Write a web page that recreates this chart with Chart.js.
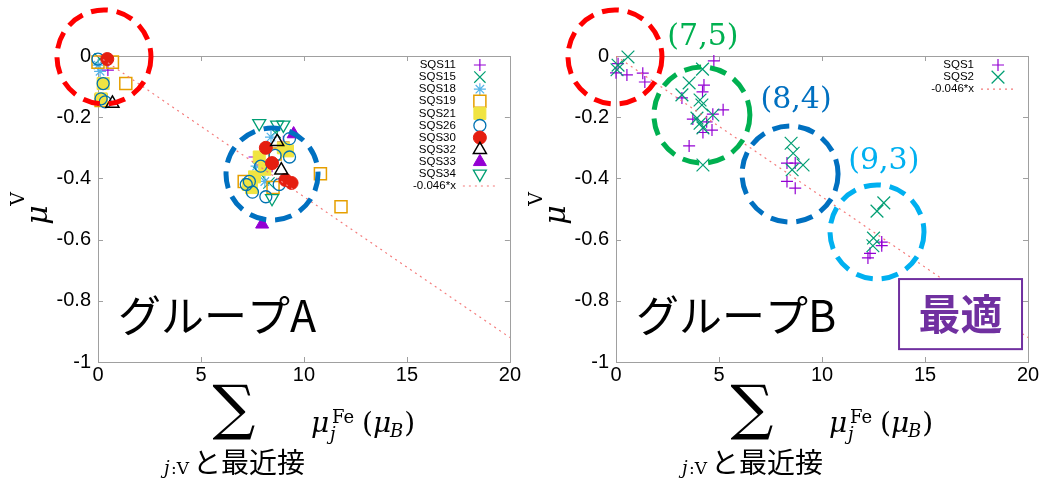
<!DOCTYPE html>
<html>
<head>
<meta charset="utf-8">
<script src="https://cdn.jsdelivr.net/npm/chart.js@4.4.1/dist/chart.umd.min.js"></script>
<style>
body { margin: 0; background: #fff; width: 1044px; height: 479px; overflow: hidden; position: relative; }
canvas { position: absolute; top: 0; }
#chartA { left: 0; }
#chartB { left: 522px; }
</style>
</head>
<body>
<canvas id="chartA" width="522" height="479"></canvas>
<canvas id="chartB" width="522" height="479"></canvas>
<script>
// ---- data ----
var xTicks = [0, 5, 10, 15, 20];
var yTicks = [0, -0.2, -0.4, -0.6, -0.8, -1];
var fitLabel = '-0.046*x';
var fitX = [0, 20];
var fitY = [0, -0.92];

// group A
var namesA = ['SQS11', 'SQS15', 'SQS18', 'SQS19', 'SQS21', 'SQS26', 'SQS30', 'SQS32', 'SQS33', 'SQS34'];
var sqs11 = [[0.48, -0.046], [7.6, -0.33], [8.45, -0.36], [9.0, -0.28]];
var sqs15 = [[0.1, -0.01], [8.3, -0.415], [8.6, -0.25], [7.8, -0.38]];
var sqs18 = [[0.0, -0.03], [0.1, -0.05], [8.4, -0.265], [7.7, -0.36], [8.1, -0.41]];
var sqs19 = [[0.0, -0.02], [0.7, -0.02], [1.35, -0.09], [0.15, -0.145], [7.1, -0.41], [8.6, -0.32], [10.8, -0.385], [11.8, -0.493], [8.5, -0.43]];
var sqs21 = [[0.25, -0.09], [0.15, -0.14], [9.0, -0.30], [7.83, -0.33], [7.6, -0.395], [7.45, -0.43], [8.1, -0.37], [7.3, -0.42], [9.2, -0.31]];
var sqs26 = [[0.0, -0.01], [0.25, -0.09], [0.15, -0.14], [0.35, -0.15], [9.3, -0.27], [8.6, -0.325], [9.3, -0.33], [7.35, -0.41], [7.5, -0.445], [8.15, -0.46], [8.8, -0.42], [7.9, -0.36], [7.2, -0.42]];
var sqs30 = [[0.45, -0.01], [8.15, -0.30], [8.45, -0.35], [9.1, -0.405], [9.4, -0.415]];
var sqs32 = [[0.7, -0.155], [8.7, -0.28], [8.9, -0.373]];
var sqs33 = [[9.5, -0.255], [7.97, -0.55]];
var sqs34 = [[7.83, -0.22], [8.7, -0.225], [9.0, -0.225], [8.45, -0.465]];

// group B
var namesB = ['SQS1', 'SQS2'];
var sqs1 = [[0.1, -0.025], [0.0, -0.055], [0.53, -0.062], [1.3, -0.056], [1.4, -0.085], [4.75, -0.016], [4.27, -0.095], [4.2, -0.117], [3.2, -0.137], [5.2, -0.176], [4.7, -0.19], [3.73, -0.206], [4.4, -0.215], [4.66, -0.242], [4.22, -0.25], [3.55, -0.294], [8.3, -0.35], [8.7, -0.35], [8.3, -0.41], [8.7, -0.432], [12.9, -0.608], [12.9, -0.62], [12.33, -0.645], [12.23, -0.66]];
var sqs2 = [[0.58, -0.003], [0.1, -0.03], [0.05, -0.045], [4.2, -0.043], [3.55, -0.088], [3.2, -0.127], [4.08, -0.144], [4.17, -0.16], [4.7, -0.193], [3.93, -0.203], [4.08, -0.22], [4.22, -0.235], [4.22, -0.356], [8.5, -0.285], [8.6, -0.318], [9.08, -0.356], [8.55, -0.372], [13.0, -0.48], [12.67, -0.507], [12.5, -0.595], [12.47, -0.62]];

// marker styles (gnuplot-like)
var marksA = [
  { style: 'cross', r: 6, w: 1.2, stroke: '#9400d3', fill: 'rgba(0,0,0,0)' },
  { style: 'crossRot', r: 8, w: 1.2, stroke: '#009e73', fill: 'rgba(0,0,0,0)' },
  { style: 'star', r: 6, w: 1.2, stroke: '#56b4e9', fill: 'rgba(0,0,0,0)' },
  { style: 'rect', r: 8.5, w: 1.5, stroke: '#e69f00', fill: 'rgba(0,0,0,0)' },
  { style: 'rect', r: 8.5, w: 1, stroke: '#f0e442', fill: '#f0e442' },
  { style: 'circle', r: 6, w: 1.3, stroke: '#0072b2', fill: 'rgba(0,0,0,0)' },
  { style: 'circle', r: 6.5, w: 1, stroke: '#e51e10', fill: '#e51e10' },
  { style: 'triangle', r: 7.5, w: 1.5, stroke: '#000000', fill: 'rgba(0,0,0,0)' },
  { style: 'triangle', r: 7.5, w: 1, stroke: '#9400d3', fill: '#9400d3' },
  { style: 'triangle', r: 7.5, w: 1.3, stroke: '#009e73', fill: 'rgba(0,0,0,0)', rot: 180 }
];
var marksB = [
  { style: 'cross', r: 6, w: 1.2, stroke: '#9400d3', fill: 'rgba(0,0,0,0)' },
  { style: 'crossRot', r: 9, w: 1.2, stroke: '#009e73', fill: 'rgba(0,0,0,0)' }
];

function drawMark(ctx, m, x, y) {
  var r = m.r;
  ctx.save();
  ctx.lineWidth = m.w;
  ctx.strokeStyle = m.stroke;
  ctx.fillStyle = m.fill;
  ctx.beginPath();
  if (m.style == 'cross' || m.style == 'star') {
    ctx.moveTo(x - r, y); ctx.lineTo(x + r, y);
    ctx.moveTo(x, y - r); ctx.lineTo(x, y + r);
  }
  if (m.style == 'crossRot' || m.style == 'star') {
    var d = r * Math.SQRT1_2;
    ctx.moveTo(x - d, y - d); ctx.lineTo(x + d, y + d);
    ctx.moveTo(x - d, y + d); ctx.lineTo(x + d, y - d);
  }
  if (m.style == 'rect') {
    var s = r * Math.SQRT1_2;
    ctx.rect(x - s, y - s, 2 * s, 2 * s);
    ctx.fill();
  }
  if (m.style == 'circle') {
    ctx.arc(x, y, r, 0, Math.PI * 2);
    ctx.fill();
  }
  if (m.style == 'triangle') {
    var a = (m.rot || 0) * Math.PI / 180;
    for (var k = 0; k < 3; k++) {
      var t = a + k * 2 * Math.PI / 3;
      if (k == 0) ctx.moveTo(x + Math.sin(t) * r, y - Math.cos(t) * r);
      else ctx.lineTo(x + Math.sin(t) * r, y - Math.cos(t) * r);
    }
    ctx.closePath();
    ctx.fill();
  }
  ctx.stroke();
  ctx.restore();
}

// axis titles, drawn by hand because of the math layout
function xTitle(ctx, L) {
  ctx.save();
  ctx.fillStyle = '#000';
  ctx.textAlign = 'center';
  ctx.textBaseline = 'middle';
  ctx.font = '60px "DejaVu Serif"';
  ctx.fillText('\u2211', L + 136, 412);
  ctx.textAlign = 'left';
  ctx.textBaseline = 'alphabetic';
  ctx.font = 'italic 28px "DejaVu Serif"';
  ctx.fillText('\u03bc', L + 213, 432);
  ctx.font = '18px "DejaVu Serif"';
  ctx.fillText('Fe', L + 234, 423);
  ctx.font = 'italic 18px "DejaVu Serif"';
  ctx.fillText('j', L + 232, 440);
  var px = L + 264;
  ctx.font = '28px "DejaVu Serif"';
  ctx.fillText('(', px, 432); px += ctx.measureText('(').width;
  ctx.font = 'italic 28px "DejaVu Serif"';
  ctx.fillText('\u03bc', px, 432); px += ctx.measureText('\u03bc').width;
  ctx.font = 'italic 18px "DejaVu Serif"';
  ctx.fillText('B', px - 1, 437); px += ctx.measureText('B').width;
  ctx.font = '28px "DejaVu Serif"';
  ctx.fillText(')', px, 432);
  // sum index
  ctx.font = 'italic 18px "DejaVu Serif"';
  ctx.fillText('j', L + 66, 474);
  ctx.font = '17px "DejaVu Serif"';
  ctx.fillText(':V', L + 73, 474);
  ctx.font = '28px "Noto Sans CJK JP"';
  ctx.textBaseline = 'top';
  ctx.fillText('と最近接', L + 95, 448);
  ctx.restore();
}

function yTitle(ctx, L) {
  ctx.save();
  ctx.fillStyle = '#000';
  ctx.translate(L - 59, 215);
  ctx.rotate(-Math.PI / 2);
  ctx.textAlign = 'center';
  ctx.textBaseline = 'middle';
  ctx.font = 'italic 30px "DejaVu Serif"';
  ctx.fillText('\u03bc', 0, 0);
  ctx.font = '19px "DejaVu Serif"';
  ctx.fillText('V', 16, -20);
  ctx.restore();
}

function makeChart(id, names, sets, marks, yWidth, padRight, deco) {
  var datasets = names.map(function (n, i) {
    var m = marks[i];
    return {
      label: n,
      data: sets[i].map(function (p) { return { x: p[0], y: p[1] }; }),
      pointStyle: m.style,
      pointRadius: m.r,
      pointHoverRadius: m.r,
      pointBorderWidth: m.w,
      pointBorderColor: m.stroke,
      pointBackgroundColor: m.fill,
      pointRotation: m.rot || 0,
      showLine: false,
      clip: false,
      order: names.length - i + 1
    };
  });
  datasets.push({
    label: fitLabel,
    type: 'line',
    data: fitX.map(function (x, i) { return { x: x, y: fitY[i] }; }),
    borderColor: '#f47a7a',
    borderWidth: 1.2,
    borderDash: [2, 4],
    pointRadius: 0,
    fill: false,
    order: 0
  });

  var decor = {
    id: 'decor' + id,
    beforeDatasetsDraw: function (chart) {
      var a = chart.chartArea, ctx = chart.ctx, xs = chart.scales.x, ys = chart.scales.y;
      ctx.save();
      ctx.strokeStyle = '#a0a0a0';
      ctx.lineWidth = 1;
      ctx.strokeRect(Math.round(a.left) + 0.5, Math.round(a.top) + 0.5, Math.round(a.right - a.left), Math.round(a.bottom - a.top));
      ctx.beginPath();
      xTicks.forEach(function (v) {
        var p = Math.round(xs.getPixelForValue(v)) + 0.5;
        ctx.moveTo(p, a.bottom); ctx.lineTo(p, a.bottom - 5);
        ctx.moveTo(p, a.top); ctx.lineTo(p, a.top + 5);
      });
      yTicks.forEach(function (v) {
        var p = Math.round(ys.getPixelForValue(v)) + 0.5;
        ctx.moveTo(a.left, p); ctx.lineTo(a.left + 5, p);
        ctx.moveTo(a.right, p); ctx.lineTo(a.right - 5, p);
      });
      ctx.stroke();
      ctx.restore();
    },
    afterDatasetsDraw: function (chart) {
      var a = chart.chartArea, ctx = chart.ctx, xs = chart.scales.x, ys = chart.scales.y;
      // legend
      ctx.save();
      ctx.font = '11.5px "Liberation Sans", Arial';
      ctx.fillStyle = '#000';
      ctx.textAlign = 'right';
      ctx.textBaseline = 'middle';
      var rowY = a.top + 9;
      names.forEach(function (n, i) {
        ctx.fillText(n, a.right - 54, rowY);
        drawMark(ctx, marks[i], a.right - 30, rowY);
        rowY += 12.1;
      });
      ctx.fillText(fitLabel, a.right - 54, rowY);
      ctx.strokeStyle = '#f47a7a';
      ctx.lineWidth = 1.2;
      ctx.setLineDash([2, 4]);
      ctx.beginPath();
      ctx.moveTo(a.right - 47, rowY); ctx.lineTo(a.right - 14, rowY);
      ctx.stroke();
      ctx.restore();

      // dashed circles
      ctx.save();
      ctx.lineWidth = 5;
      ctx.setLineDash([17, 9]);
      deco.circles.forEach(function (c) {
        ctx.strokeStyle = c.color;
        ctx.beginPath();
        ctx.arc(xs.getPixelForValue(c.x), ys.getPixelForValue(c.y), c.r, 0, Math.PI * 2);
        ctx.stroke();
      });
      ctx.restore();

      // (n,m) labels
      ctx.save();
      ctx.font = '30px "DejaVu Serif"';
      ctx.textAlign = 'center';
      ctx.textBaseline = 'middle';
      deco.labels.forEach(function (t) {
        ctx.fillStyle = t.color;
        ctx.fillText(t.text, xs.getPixelForValue(t.x), ys.getPixelForValue(t.y));
      });
      ctx.restore();

      // group label
      ctx.save();
      ctx.fillStyle = '#000';
      ctx.font = '43px "Noto Sans CJK JP"';
      ctx.textBaseline = 'alphabetic';
      ctx.fillText(deco.group, a.left + 20, 332);
      ctx.restore();

      // optimum box
      if (deco.box) {
        var b = deco.box;
        var x0 = xs.getPixelForValue(b.x0), x1 = xs.getPixelForValue(b.x1);
        var y0 = ys.getPixelForValue(b.y0), y1 = ys.getPixelForValue(b.y1);
        ctx.save();
        ctx.fillStyle = '#fff';
        ctx.fillRect(x0, y0, x1 - x0, y1 - y0);
        ctx.strokeStyle = '#7030a0';
        ctx.lineWidth = 2;
        ctx.strokeRect(x0, y0, x1 - x0, y1 - y0);
        ctx.fillStyle = '#7030a0';
        ctx.font = 'bold 42px "Noto Sans CJK JP"';
        ctx.textAlign = 'center';
        ctx.textBaseline = 'middle';
        ctx.fillText(b.text, (x0 + x1) / 2, (y0 + y1) / 2);
        ctx.restore();
      }

      xTitle(ctx, a.left);
      yTitle(ctx, a.left);
    }
  };

  return new Chart(document.getElementById(id), {
    type: 'scatter',
    data: { datasets: datasets },
    options: {
      responsive: false,
      animation: false,
      devicePixelRatio: 1,
      layout: { padding: { top: 56, right: padRight, left: 0, bottom: 0 } },
      plugins: { legend: { display: false }, tooltip: { enabled: false } },
      scales: {
        x: {
          type: 'linear', min: 0, max: 20,
          afterFit: function (s) { s.height = 117; },
          afterBuildTicks: function (s) { s.ticks = xTicks.map(function (v) { return { value: v }; }); },
          ticks: { color: '#000', font: { size: 20, family: '"Liberation Sans", Arial' }, padding: 1, maxRotation: 0 },
          grid: { display: false, drawTicks: false },
          border: { display: false }
        },
        y: {
          type: 'linear', min: -1, max: 0,
          afterFit: function (s) { s.width = yWidth; },
          afterBuildTicks: function (s) { s.ticks = yTicks.map(function (v) { return { value: v }; }); },
          ticks: {
            color: '#000', font: { size: 20, family: '"Liberation Sans", Arial' }, padding: 7,
            callback: function (v) { return String(+v.toFixed(1)); }
          },
          grid: { display: false, drawTicks: false },
          border: { display: false }
        }
      }
    },
    plugins: [decor]
  });
}

makeChart('chartA', namesA, [sqs11, sqs15, sqs18, sqs19, sqs21, sqs26, sqs30, sqs32, sqs33, sqs34], marksA, 98, 10, {
  circles: [
    { x: 0.29, y: -0.003, r: 47, color: '#ff0000' },
    { x: 8.45, y: -0.386, r: 46, color: '#0070c0' }
  ],
  labels: [],
  group: 'グループA'
});

makeChart('chartB', namesB, [sqs1, sqs2], marksB, 94, 16, {
  circles: [
    { x: -0.05, y: -0.003, r: 47, color: '#ff0000' },
    { x: 4.17, y: -0.193, r: 48, color: '#00b050' },
    { x: 8.45, y: -0.386, r: 48, color: '#0070c0' },
    { x: 12.67, y: -0.575, r: 47, color: '#00b0f0' }
  ],
  labels: [
    { text: '(7,5)', x: 4.22, y: 0.062, color: '#00b050' },
    { text: '(8,4)', x: 8.74, y: -0.144, color: '#0070c0' },
    { text: '(9,3)', x: 13.0, y: -0.343, color: '#00b0f0' }
  ],
  group: 'グループB',
  box: { x0: 13.74, x1: 19.71, y0: -0.729, y1: -0.958, text: '最適' }
});
</script>
</body>
</html>
